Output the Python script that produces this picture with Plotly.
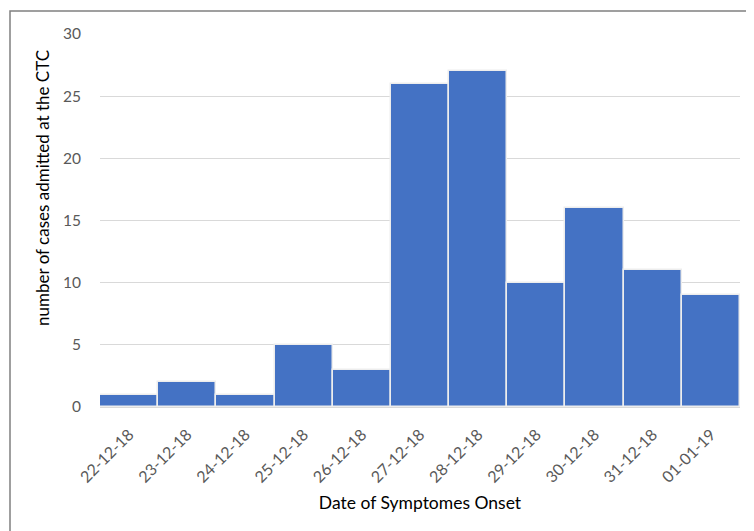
import plotly.graph_objects as go

dates = ["22-12-18", "23-12-18", "24-12-18", "25-12-18", "26-12-18", "27-12-18",
         "28-12-18", "29-12-18", "30-12-18", "31-12-18", "01-01-19"]
cases = [1, 2, 1, 5, 3, 26, 27, 10, 16, 11, 9]

fig = go.Figure(go.Bar(
    x=dates, y=cases,
    marker=dict(color="#4472C4", line=dict(color="#EDEDED", width=1.5)),
))

# page body has an 8px offset, so compensate
L, T, W, H = 92, 26, 640, 373
R, B = 754 - L - W, 531 - T - H
bx = (2 - L) / W
by = (H + T - 3) / H

fig.update_layout(
    width=754, height=531,
    margin=dict(l=L, r=R, t=T, b=B),
    paper_bgcolor="white", plot_bgcolor="white",
    bargap=0,
    font=dict(family="Lato, Open Sans, sans-serif", size=14, color="#595959"),
    showlegend=False,
    xaxis=dict(
        type="category", automargin=False,
        tickangle=-45, tickfont=dict(size=16, color="#595959"),
        showgrid=False, showline=True, linecolor="#D9D9D9", linewidth=1,
        ticklabelstandoff=11,
        title=dict(text="Date of Symptomes Onset", font=dict(size=17.5, color="black"), standoff=11),
    ),
    yaxis=dict(
        range=[0, 30], dtick=5, tickfont=dict(size=15.5, color="#595959"),
        automargin=False,
        showgrid=True, gridcolor="#D9D9D9", gridwidth=1, zeroline=False,
        ticklabelstandoff=18,
    ),
    annotations=[dict(text="number of cases admitted at the CTC", textangle=-90,
                      xref="paper", yref="paper", x=(34 - L) / W, y=(T + H - 180) / H,
                      xanchor="center", yanchor="middle", showarrow=False,
                      font=dict(size=17, color="black"))],
    shapes=[dict(type="path", xref="paper", yref="paper",
                 path=f"M {bx},-1 L {bx},{by} L 1.2,{by}",
                 line=dict(color="#808080", width=1.5))],
)

fig.write_html("out.html")
